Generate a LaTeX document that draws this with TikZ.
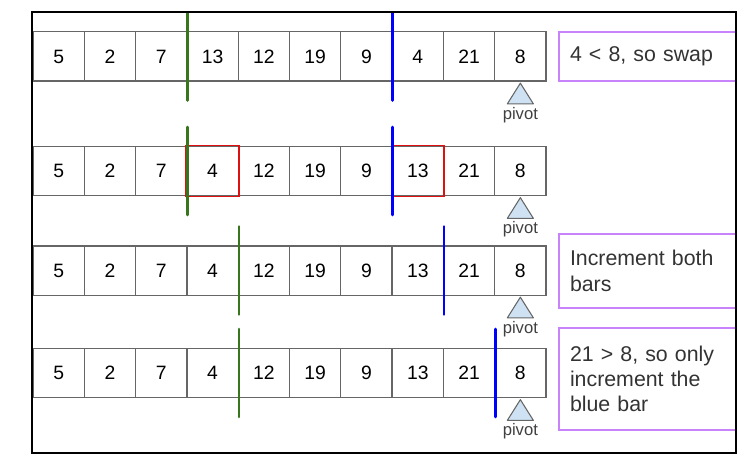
\documentclass[tikz,border=0pt]{standalone}
\usepackage{fontspec}
\setmainfont{Liberation Sans}
\usepackage{tikz}

\definecolor{cellgray}{HTML}{666666}
\definecolor{swapred}{HTML}{E01010}
\definecolor{bargreen}{HTML}{38761D}
\definecolor{barblue}{HTML}{0000FF}
\definecolor{notepurple}{RGB}{200,130,250}
\definecolor{pivotblue}{HTML}{CFE2F3}

\tikzset{
  cell/.style={draw=cellgray,line width=1pt,minimum width=38.5pt,minimum height=37pt,inner sep=0pt,font=\fontsize{14.5}{17}\selectfont},
  swapbox/.style={draw=swapred,line width=1.2pt},
  greenbar/.style={draw=bargreen,line width=2pt,line cap=round},
  bluebar/.style={draw=barblue,line width=2pt,line cap=round},
  pivotmark/.style={draw=cellgray,fill=pivotblue,line width=.8pt,line join=round},
  pivotlabel/.style={text=black!75,font=\fontsize{12.5}{14}\selectfont,inner sep=0pt},
  note/.style={draw=notepurple,line width=1pt,minimum width=132.75pt,text width=116.25pt,inner xsep=8.25pt,align=left,font=\fontsize{16}{19}\selectfont,text=black!80}
}

\begin{document}
\begin{tikzpicture}[x=.75pt,y=-.75pt]

\useasboundingbox (0,0) rectangle (755,463);

% the four rows of the array
\foreach \v [count=\i] in {5,2,7,13,12,19,9,4,21,8}
  \node[cell] (a\i) at ({33+51.3*(\i-.5)},56.5) {\v};
\foreach \v [count=\i] in {5,2,7,4,12,19,9,13,21,8}
  \node[cell] (b\i) at ({33+51.3*(\i-.5)},171) {\v};
\foreach \v [count=\i] in {5,2,7,4,12,19,9,13,21,8}
  \node[cell] (c\i) at ({33+51.3*(\i-.5)},270.5) {\v};
\foreach \v [count=\i] in {5,2,7,4,12,19,9,13,21,8}
  \node[cell] (d\i) at ({33+51.3*(\i-.5)},373) {\v};

% swapped cells
\draw[swapbox] (b4.south west) rectangle (b4.north east);
\draw[swapbox] (b8.south west) rectangle (b8.north east);

% bars
\draw[greenbar] ([yshift=33pt]a3.east) -- ([yshift=-33pt]a3.east);
\draw[bluebar] ([yshift=33pt]a7.east) -- ([yshift=-33pt]a7.east);
\draw[greenbar] ([yshift=33pt]b3.east) -- ([yshift=-33pt]b3.east);
\draw[bluebar] ([yshift=33pt]b7.east) -- ([yshift=-33pt]b7.east);
\draw[greenbar] ([yshift=33pt]c4.east) -- ([yshift=-33pt]c4.east);
\draw[bluebar] ([yshift=33pt]c8.east) -- ([yshift=-33pt]c8.east);
\draw[greenbar] ([yshift=33pt]d4.east) -- ([yshift=-33pt]d4.east);
\draw[bluebar] ([yshift=33pt]d9.east) -- ([yshift=-33pt]d9.east);

% pivots
\foreach \r in {a,b,c,d} {
  \draw[pivotmark] ([yshift=-1pt]\r10.south) -- ++(-9.75pt,-15.5pt) -- ++(19.5pt,0pt) -- cycle;
  \node[pivotlabel] (p\r) at ([yshift=-25pt]\r10.south) {pivot};
}

% notes
\node[note,minimum height=36.75pt] (na) at (647.5,56.5) {4 < 8, so swap};
\node[note,minimum height=55.5pt] (nc) at (647.5,271) {Increment both\\bars};
\node[note,minimum height=76.5pt] (nd) at (647.5,379) {21 > 8, so only\\increment the\\blue bar};

% frame
\draw[line width=1.5pt] (32,12) rectangle (736,453);

\end{tikzpicture}
\end{document}
